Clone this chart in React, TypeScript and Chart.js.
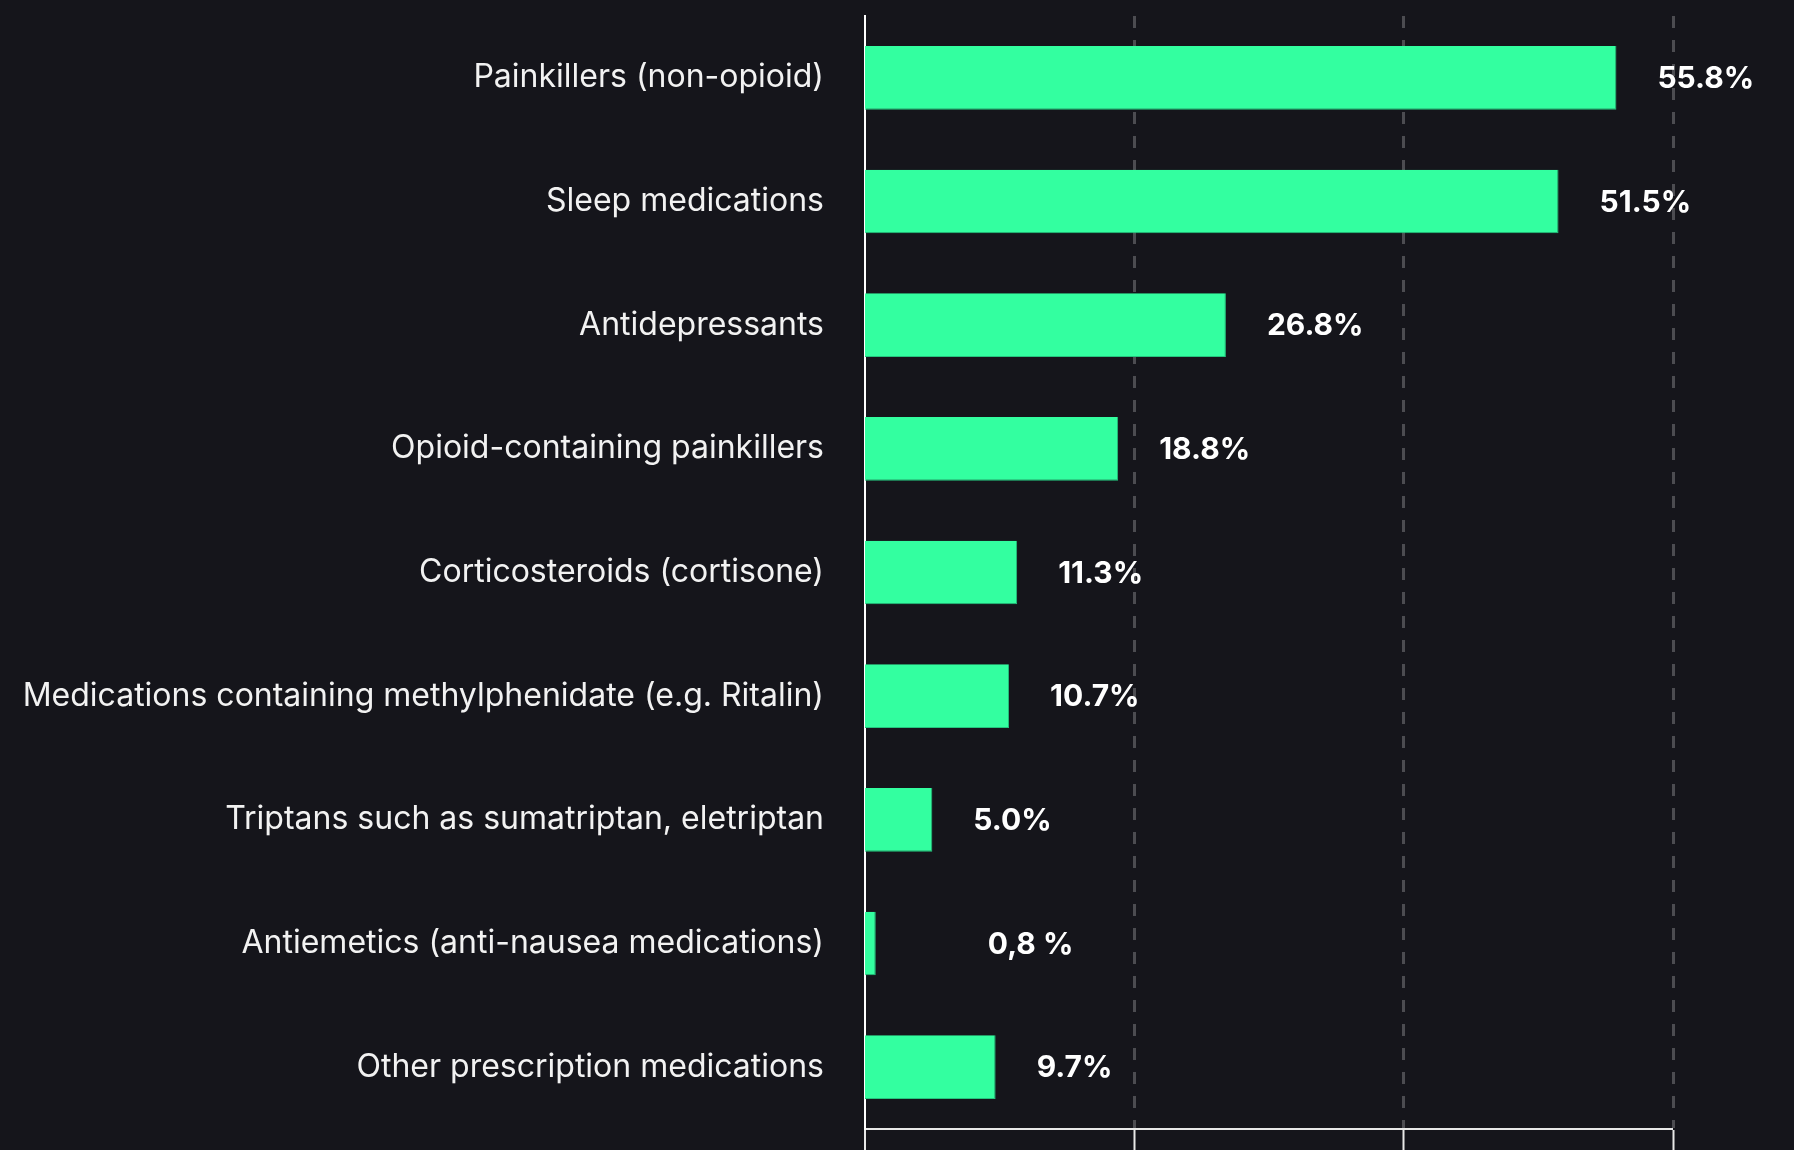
import React, { useEffect, useRef } from "react";
import { Chart, registerables } from "chart.js";

Chart.register(...registerables);

const categories = [
  "Painkillers (non-opioid)",
  "Sleep medications",
  "Antidepressants",
  "Opioid-containing painkillers",
  "Corticosteroids (cortisone)",
  "Medications containing methylphenidate (e.g. Ritalin)",
  "Triptans such as sumatriptan, eletriptan",
  "Antiemetics (anti-nausea medications)",
  "Other prescription medications",
];

const values = [55.8, 51.5, 26.8, 18.8, 11.3, 10.7, 5.0, 0.8, 9.7];

const valueLabels = [
  "55.8%",
  "51.5%",
  "26.8%",
  "18.8%",
  "11.3%",
  "10.7%",
  "5.0%",
  "          0,8 %",
  "9.7%",
];

const xTickValues = [0, 20, 40, 60];

const BG = "#15151b";
const BAR = "#33ffa0";

const valueLabelPlugin = {
  id: "valueLabels",
  afterDatasetsDraw(chart: any) {
    const ctx = chart.ctx;
    const meta = chart.getDatasetMeta(0);
    ctx.save();
    ctx.font = "700 30px Inter";
    ctx.fillStyle = "#ffffff";
    ctx.textAlign = "left";
    ctx.textBaseline = "middle";
    meta.data.forEach((el: any, i: number) => {
      ctx.fillText(valueLabels[i], el.x + 41, el.y + 1);
    });
    ctx.restore();
  },
};

export default function App() {
  const canvasRef = useRef<HTMLCanvasElement | null>(null);

  useEffect(() => {
    if (!canvasRef.current) return;
    const chart = new Chart(canvasRef.current, {
      type: "bar",
      data: {
        labels: categories,
        datasets: [
          {
            data: values,
            backgroundColor: BAR,
            borderColor: "#25c47e",
            borderWidth: { top: 0, right: 1, bottom: 1, left: 0 } as any,
            borderSkipped: false as any,
            barPercentage: 0.515,
            categoryPercentage: 1,
          },
        ],
      },
      options: {
        indexAxis: "y",
        animation: false,
        responsive: true,
        maintainAspectRatio: false,
        layout: { padding: { top: 16, right: 121, bottom: 0, left: 0 } },
        plugins: {
          legend: { display: false },
          tooltip: { enabled: false },
        },
        scales: {
          x: {
            type: "linear",
            position: "bottom",
            min: 0,
            max: 60,
            afterBuildTicks: (scale: any) => {
              scale.ticks = xTickValues.map((v) => ({ value: v }));
            },
            ticks: { display: false },
            grid: {
              display: true,
              drawOnChartArea: true,
              drawTicks: true,
              tickLength: 21,
              color: "rgba(255,255,255,0.24)",
              lineWidth: (c: any) => (c.index === 0 ? 0 : 3),
              tickColor: "#e8e8e8",
              tickWidth: 2,
            },
            border: {
              display: true,
              color: "#e8e8e8",
              width: 2,
              dash: [12, 12],
            },
          },
          y: {
            type: "category",
            position: "left",
            grid: { display: false, drawTicks: false },
            border: { display: true, color: "#ffffff", width: 2 },
            ticks: {
              color: "#f2f2f2",
              padding: 41,
              font: { family: "Inter", size: 32, weight: "400" as any },
            },
            afterFit: (scale: any) => {
              scale.width = 865;
              scale.paddingTop = 0;
              scale.paddingBottom = 0;
            },
          },
        },
      },
      plugins: [valueLabelPlugin],
    });
    return () => chart.destroy();
  }, []);

  return (
    <div
      style={{
        position: "fixed",
        left: 0,
        top: 0,
        width: 1794,
        height: 1150,
        background: BG,
      }}
    >
      <canvas ref={canvasRef} />
    </div>
  );
}
